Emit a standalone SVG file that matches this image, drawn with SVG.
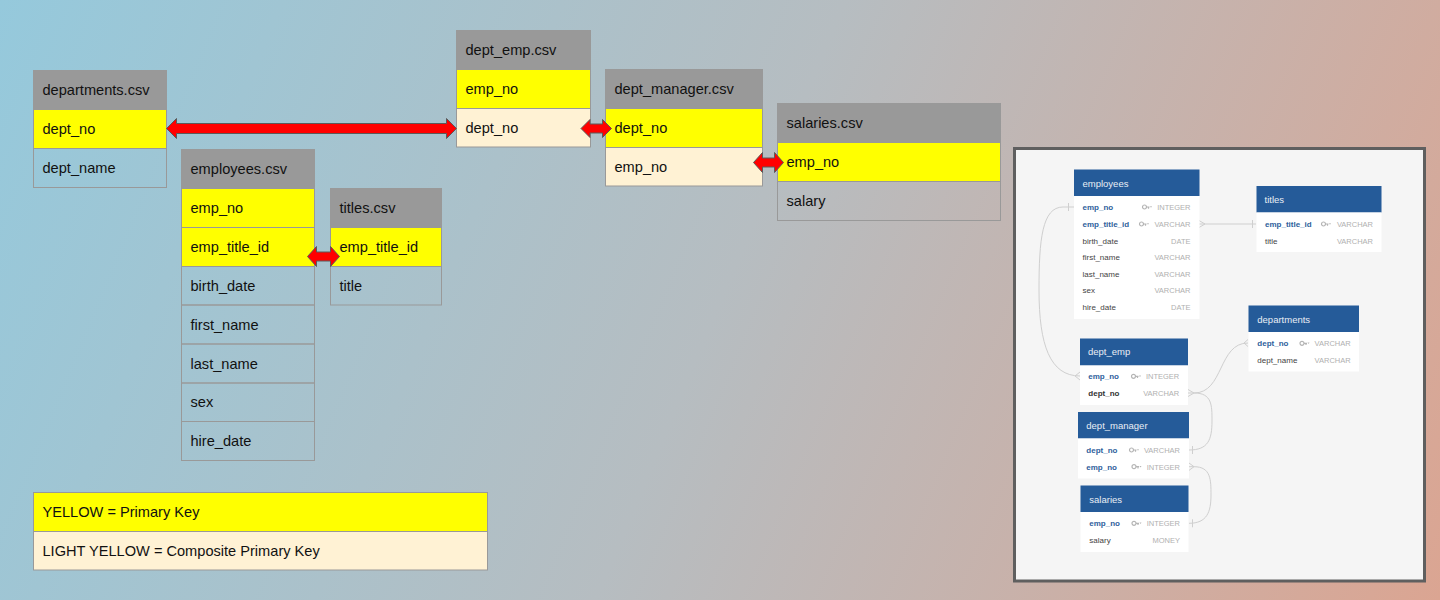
<svg xmlns="http://www.w3.org/2000/svg" width="1440" height="600" viewBox="0 0 1440 600">
<defs>
<linearGradient id="bg" gradientUnits="userSpaceOnUse" x1="0" y1="0" x2="1440" y2="600">
<stop offset="0" stop-color="#95c9dc"/>
<stop offset="0.5" stop-color="#b6bdc1"/>
<stop offset="1" stop-color="#dba592"/>
</linearGradient>
<style>
.c{stroke:#999;stroke-width:1;fill:none}
.h{fill:#999999;stroke:#999;stroke-width:1}
.y{fill:#ffff00;stroke:#999;stroke-width:1}
.ly{fill:#fff2d4;stroke:#999;stroke-width:1}
.t{font-family:"Liberation Sans",Arial,sans-serif;font-size:14.6px;fill:#111}
.arr{fill:#ff0000;stroke:#5a5a5a;stroke-width:1;stroke-linejoin:miter}
.eh{fill:#255b99}
.eb{fill:#ffffff}
.et{font-family:"Liberation Sans",Arial,sans-serif;font-size:9.5px;fill:#e9eef5}
.fk{font-family:"Liberation Sans",Arial,sans-serif;font-size:8px;font-weight:bold;fill:#2f5f9c}
.fd{font-family:"Liberation Sans",Arial,sans-serif;font-size:8px;font-weight:bold;fill:#333}
.fn{font-family:"Liberation Sans",Arial,sans-serif;font-size:8px;fill:#444}
.ty{font-family:"Liberation Sans",Arial,sans-serif;font-size:7.5px;fill:#b0b0b0;text-anchor:end}
.ln{fill:none;stroke:#cfcfcf;stroke-width:1}
.key{fill:none;stroke:#b5b5b5;stroke-width:1.2}
</style>
<g id="keyicon"><circle cx="2.5" cy="0" r="2" class="key"/><path d="M4.5,0 H7.5 M6.5,0 V1.8" class="key"/><path d="M8,-0.8 L10,-0.8 L9,0.8 Z" fill="#b5b5b5"/></g>
</defs>
<rect x="0" y="0" width="1440" height="600" fill="url(#bg)"/>

<g id="departments">
<rect class="h" x="33.5" y="70.5" width="133" height="39"/>
<rect class="y" x="33.5" y="109.5" width="133" height="39"/>
<rect class="c" x="33.5" y="148.5" width="133" height="39"/>
<text class="t" x="42.5" y="95">departments.csv</text>
<text class="t" x="42.5" y="134">dept_no</text>
<text class="t" x="42.5" y="173">dept_name</text>
</g>

<g id="employees">
<rect class="h" x="181.5" y="149.5" width="133" height="39"/>
<rect class="y" x="181.5" y="188.5" width="133" height="39"/>
<rect class="y" x="181.5" y="227.5" width="133" height="39"/>
<rect class="c" x="181.5" y="266.5" width="133" height="38.5"/>
<rect class="c" x="181.5" y="305" width="133" height="39"/>
<rect class="c" x="181.5" y="344" width="133" height="39"/>
<rect class="c" x="181.5" y="383" width="133" height="38.5"/>
<rect class="c" x="181.5" y="421.5" width="133" height="39"/>
<text class="t" x="190.5" y="174">employees.csv</text>
<text class="t" x="190.5" y="213">emp_no</text>
<text class="t" x="190.5" y="252">emp_title_id</text>
<text class="t" x="190.5" y="290.5">birth_date</text>
<text class="t" x="190.5" y="329.5">first_name</text>
<text class="t" x="190.5" y="368.5">last_name</text>
<text class="t" x="190.5" y="407">sex</text>
<text class="t" x="190.5" y="446">hire_date</text>
</g>

<g id="titles">
<rect class="h" x="330.5" y="188.5" width="111" height="39"/>
<rect class="y" x="330.5" y="227.5" width="111" height="39"/>
<rect class="c" x="330.5" y="266.5" width="111" height="38.5"/>
<text class="t" x="339.5" y="213">titles.csv</text>
<text class="t" x="339.5" y="252">emp_title_id</text>
<text class="t" x="339.5" y="290.5">title</text>
</g>

<g id="dept_emp">
<rect class="h" x="456.5" y="30.5" width="134" height="39"/>
<rect class="y" x="456.5" y="69.5" width="134" height="39"/>
<rect class="ly" x="456.5" y="108.5" width="134" height="38.5"/>
<text class="t" x="465.5" y="55">dept_emp.csv</text>
<text class="t" x="465.5" y="94">emp_no</text>
<text class="t" x="465.5" y="133">dept_no</text>
</g>

<g id="dept_manager">
<rect class="h" x="605.5" y="69.5" width="157" height="39"/>
<rect class="y" x="605.5" y="108.5" width="157" height="39"/>
<rect class="ly" x="605.5" y="147.5" width="157" height="38.5"/>
<text class="t" x="614.5" y="94">dept_manager.csv</text>
<text class="t" x="614.5" y="133">dept_no</text>
<text class="t" x="614.5" y="172">emp_no</text>
</g>

<g id="salaries">
<rect class="h" x="777.5" y="103.5" width="223" height="39"/>
<rect class="y" x="777.5" y="142.5" width="223" height="39"/>
<rect class="c" x="777.5" y="181.5" width="223" height="39"/>
<text class="t" x="786.5" y="128">salaries.csv</text>
<text class="t" x="786.5" y="167">emp_no</text>
<text class="t" x="786.5" y="206">salary</text>
</g>

<g id="legend">
<rect class="y" x="33.5" y="492.5" width="454" height="39"/>
<rect class="ly" x="33.5" y="531.5" width="454" height="38.5"/>
<text class="t" x="42.5" y="517">YELLOW = Primary Key</text>
<text class="t" x="42.5" y="556">LIGHT YELLOW = Composite Primary Key</text>
</g>

<g id="connectors">
<path class="arr" d="M166.5,128.5 L176.5,118.5 L176.5,123.5 L446.5,123.5 L446.5,118.5 L456.5,128.5 L446.5,138.5 L446.5,133.5 L176.5,133.5 L176.5,138.5 Z"/>
<path class="arr" d="M307.5,256.5 L316.5,246.5 L316.5,252 L330.5,252 L330.5,246.5 L339.5,256.5 L330.5,266.5 L330.5,261 L316.5,261 L316.5,266.5 Z"/>
<path class="arr" d="M581,128.5 L590,119.5 L590,124 L602.5,124 L602.5,119.5 L611.5,128.5 L602.5,137.5 L602.5,133 L590,133 L590,137.5 Z"/>
<path class="arr" d="M753.5,162.5 L762.5,152.5 L762.5,158 L774.5,158 L774.5,152.5 L783.5,162.5 L774.5,172.5 L774.5,167 L762.5,167 L762.5,172.5 Z"/>
</g>

<g id="erd_panel">
<rect x="1014.5" y="148.5" width="410" height="432.5" fill="#f5f5f5" stroke="#5f5f5f" stroke-width="3"/>

<g id="erd_connectors">
<path class="ln" d="M1199,224 H1256 M1199,220.5 L1205,224 L1199,227.5 M1252.5,220 V228"/>
<path class="ln" d="M1074,207 H1063 C1042,207 1039,240 1039,290 C1039,345 1050,376 1080,376 M1068.5,203 V211 M1080,372 L1075,376 L1080,380"/>
<path class="ln" d="M1188,393 H1194 C1224,393 1218,343 1248,343 M1248,339.5 L1244,343 L1248,346.5 M1188,389.5 L1194,393 L1188,396.5"/>
<path class="ln" d="M1194,393 C1212,393 1212,405 1212,421 C1212,440 1208,450 1189,450 M1192.5,446 V454"/>
<path class="ln" d="M1189,466.7 H1194 C1211,466.7 1211,480 1211,495 C1211,512 1207,523.3 1189,523.3 M1189,463 L1194,466.7 L1189,470.4 M1192.5,519.3 V527.3"/>
</g>

<g id="erd_employees">
<rect class="eh" x="1074" y="169.5" width="125.5" height="26.5"/>
<rect class="eb" x="1074" y="196" width="125.5" height="123"/>
<text class="et" x="1082.5" y="186.5">employees</text>
<text class="fk" x="1082.5" y="210">emp_no</text>
<use href="#keyicon" x="1142" y="207"/>
<text class="ty" x="1190.5" y="210">INTEGER</text>
<text class="fk" x="1082.5" y="227">emp_title_id</text>
<use href="#keyicon" x="1139" y="224"/>
<text class="ty" x="1190.5" y="227">VARCHAR</text>
<text class="fn" x="1082.5" y="243.5">birth_date</text>
<text class="ty" x="1190.5" y="243.5">DATE</text>
<text class="fn" x="1082.5" y="260">first_name</text>
<text class="ty" x="1190.5" y="260">VARCHAR</text>
<text class="fn" x="1082.5" y="277">last_name</text>
<text class="ty" x="1190.5" y="277">VARCHAR</text>
<text class="fn" x="1082.5" y="293">sex</text>
<text class="ty" x="1190.5" y="293">VARCHAR</text>
<text class="fn" x="1082.5" y="310">hire_date</text>
<text class="ty" x="1190.5" y="310">DATE</text>
</g>

<g id="erd_titles">
<rect class="eh" x="1256.5" y="186" width="125" height="26.5"/>
<rect class="eb" x="1256.5" y="212.5" width="125" height="39.5"/>
<text class="et" x="1264.5" y="203">titles</text>
<text class="fk" x="1265" y="227">emp_title_id</text>
<use href="#keyicon" x="1321" y="224"/>
<text class="ty" x="1373" y="227">VARCHAR</text>
<text class="fn" x="1265" y="243.5">title</text>
<text class="ty" x="1373" y="243.5">VARCHAR</text>
</g>

<g id="erd_departments">
<rect class="eh" x="1248.5" y="305.5" width="110.5" height="26.5"/>
<rect class="eb" x="1248.5" y="332" width="110.5" height="39.5"/>
<text class="et" x="1257.3" y="322.5">departments</text>
<text class="fk" x="1257.3" y="346.3">dept_no</text>
<use href="#keyicon" x="1299.5" y="343.3"/>
<text class="ty" x="1350.7" y="346.3">VARCHAR</text>
<text class="fn" x="1257.3" y="363">dept_name</text>
<text class="ty" x="1350.7" y="363">VARCHAR</text>
</g>

<g id="erd_dept_emp">
<rect class="eh" x="1080" y="338.5" width="108" height="27"/>
<rect class="eb" x="1080" y="365.5" width="108" height="39.5"/>
<text class="et" x="1088" y="354.8">dept_emp</text>
<text class="fk" x="1088.3" y="379.3">emp_no</text>
<use href="#keyicon" x="1131" y="376.3"/>
<text class="ty" x="1179.3" y="379.3">INTEGER</text>
<text class="fd" x="1088.3" y="395.7">dept_no</text>
<text class="ty" x="1179.3" y="395.7">VARCHAR</text>
</g>

<g id="erd_dept_manager">
<rect class="eh" x="1078" y="412" width="111" height="26.5"/>
<rect class="eb" x="1078" y="438.5" width="111" height="40"/>
<text class="et" x="1086.3" y="429">dept_manager</text>
<text class="fk" x="1086.3" y="453">dept_no</text>
<use href="#keyicon" x="1129" y="450"/>
<text class="ty" x="1180" y="453">VARCHAR</text>
<text class="fk" x="1086.3" y="469.7">emp_no</text>
<use href="#keyicon" x="1131.5" y="466.7"/>
<text class="ty" x="1180" y="469.7">INTEGER</text>
</g>

<g id="erd_salaries">
<rect class="eh" x="1080.5" y="485.5" width="108" height="26.5"/>
<rect class="eb" x="1080.5" y="512" width="108" height="40"/>
<text class="et" x="1089.3" y="502.5">salaries</text>
<text class="fk" x="1089.3" y="526.3">emp_no</text>
<use href="#keyicon" x="1131.5" y="523.3"/>
<text class="ty" x="1180" y="526.3">INTEGER</text>
<text class="fn" x="1089.3" y="543">salary</text>
<text class="ty" x="1180" y="543">MONEY</text>
</g>
</g>
</svg>
